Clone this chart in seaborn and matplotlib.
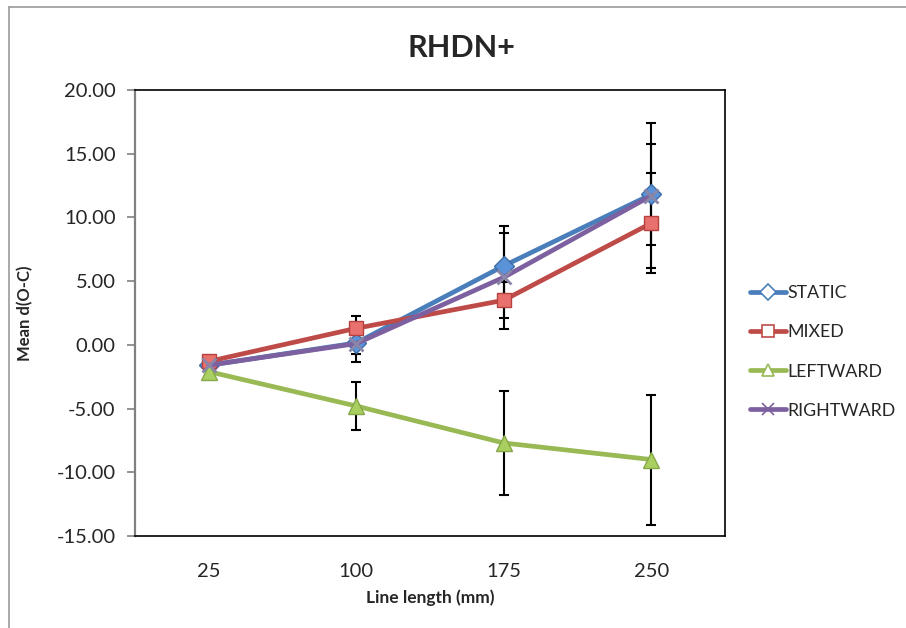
import matplotlib
matplotlib.use("Agg")
import matplotlib.pyplot as plt
from matplotlib.lines import Line2D
import numpy as np
import pandas as pd
import seaborn as sns

# ---------------------------------------------------------------------------
# Data
# ---------------------------------------------------------------------------
lengths = ["25", "100", "175", "250"]
conditions = ["STATIC", "MIXED", "LEFTWARD", "RIGHTWARD"]

static_mean = [-1.6, 0.15, 6.2, 11.8]
mixed_mean = [-1.3, 1.3, 3.5, 9.55]
leftward_mean = [-2.1, -4.8, -7.7, -9.0]
rightward_mean = [-1.6, 0.1, 5.3, 11.7]

static_err = [0.3, 1.5, 2.6, 4.0]
mixed_err = [0.3, 1.0, 1.4, 3.9]
leftward_err = [0.3, 1.9, 4.1, 5.1]
rightward_err = [0.3, 0.8, 4.05, 5.7]

means = {"STATIC": static_mean, "MIXED": mixed_mean,
         "LEFTWARD": leftward_mean, "RIGHTWARD": rightward_mean}
errs = {"STATIC": static_err, "MIXED": mixed_err,
        "LEFTWARD": leftward_err, "RIGHTWARD": rightward_err}

line_colors = {"STATIC": "#4A7EBB", "MIXED": "#BE4B48",
               "LEFTWARD": "#98B954", "RIGHTWARD": "#7D60A0"}
face_colors = {"STATIC": "#5B93D8", "MIXED": "#E8706D",
               "LEFTWARD": "#A9CF60", "RIGHTWARD": "#9A86B8"}
edge_colors = {"STATIC": "#3D6CA8", "MIXED": "#B5423F",
               "LEFTWARD": "#86A849", "RIGHTWARD": "#8A86A8"}
markers = {"STATIC": "D", "MIXED": "s", "LEFTWARD": "^", "RIGHTWARD": "X"}

df = pd.DataFrame({
    "length": lengths * len(conditions),
    "condition": np.repeat(conditions, len(lengths)),
    "mean": static_mean + mixed_mean + leftward_mean + rightward_mean,
})

# ---------------------------------------------------------------------------
# Plot
# ---------------------------------------------------------------------------
sns.set_style("white")
plt.rcParams["font.family"] = ["Lato", "DejaVu Sans"]

fig = plt.figure(figsize=(9.06, 6.28), dpi=100)
ax = fig.add_axes([135 / 906, 1 - 536 / 628, 590 / 906, 446 / 628])

# error bars underneath the lines
for cond in conditions:
    ax.errorbar(lengths, means[cond], yerr=errs[cond], fmt="none",
                ecolor="black", elinewidth=1.5, capsize=3.5, capthick=1.5, zorder=1)

sns.lineplot(data=df, x="length", y="mean", hue="condition", style="condition",
             palette=line_colors, markers=markers, dashes=False, sort=False,
             linewidth=3.4, markersize=10, legend=False, ax=ax, zorder=3)

# restyle the markers per series
for line, cond in zip(ax.get_lines()[-len(conditions):], conditions):
    line.set_markerfacecolor(face_colors[cond])
    line.set_markeredgecolor(edge_colors[cond])
    line.set_markeredgewidth(1.0)
    if cond == "RIGHTWARD":
        line.set_marker("x")
        line.set_markeredgewidth(2.0)
        line.set_markersize(10)
    if cond == "STATIC":
        line.set_markersize(10)
    if cond == "LEFTWARD":
        line.set_markersize(11)

ax.set_xlim(-0.5, 3.5)
ax.set_ylim(-15, 20)
ax.set_yticks(np.arange(-15, 20.1, 5))
ax.yaxis.set_major_formatter(matplotlib.ticker.FormatStrFormatter("%.2f"))
ax.tick_params(axis="y", left=True, length=6, width=1.2, color="#808080",
               labelsize=14.5, pad=8)
ax.tick_params(axis="x", bottom=False, labelsize=14.5, pad=16)
ax.set_xlabel("Line length (mm)", fontsize=12.5, fontweight="bold", labelpad=7)
ax.set_ylabel("Mean d(O-C)", fontsize=12, fontweight="bold", labelpad=17)

for side in ["top", "right", "bottom"]:
    ax.spines[side].set_color("black")
    ax.spines[side].set_linewidth(1.2)
ax.spines["left"].set_color("#808080")
ax.spines["left"].set_linewidth(1.6)

fig.text(461 / 906, 1 - 48 / 628, "RHDN+", fontsize=22, fontweight="bold",
         ha="center", va="center")

# legend with hollow markers like the original
handles = []
for cond in conditions:
    handles.append(Line2D([0], [0], color=line_colors[cond], linewidth=3.4,
                          marker=markers[cond] if cond != "RIGHTWARD" else "x",
                          markersize=8, markerfacecolor="white",
                          markeredgecolor=line_colors[cond], markeredgewidth=1.2))
fig.legend(handles, conditions, loc="center left",
           bbox_to_anchor=(734 / 906, 1 - 352 / 628), frameon=False,
           fontsize=12.8, handlelength=2.0, handletextpad=0.1, labelspacing=1.3)

# outer chart frame (top and left edges)
fig.add_artist(Line2D([9 / 906, 9 / 906], [0, 1 - 7 / 628], transform=fig.transFigure,
                      color="#9a9a9a", linewidth=1.2))
fig.add_artist(Line2D([9 / 906, 1], [1 - 7 / 628, 1 - 7 / 628], transform=fig.transFigure,
                      color="#9a9a9a", linewidth=1.2))

fig.savefig("out.png", dpi=100)
